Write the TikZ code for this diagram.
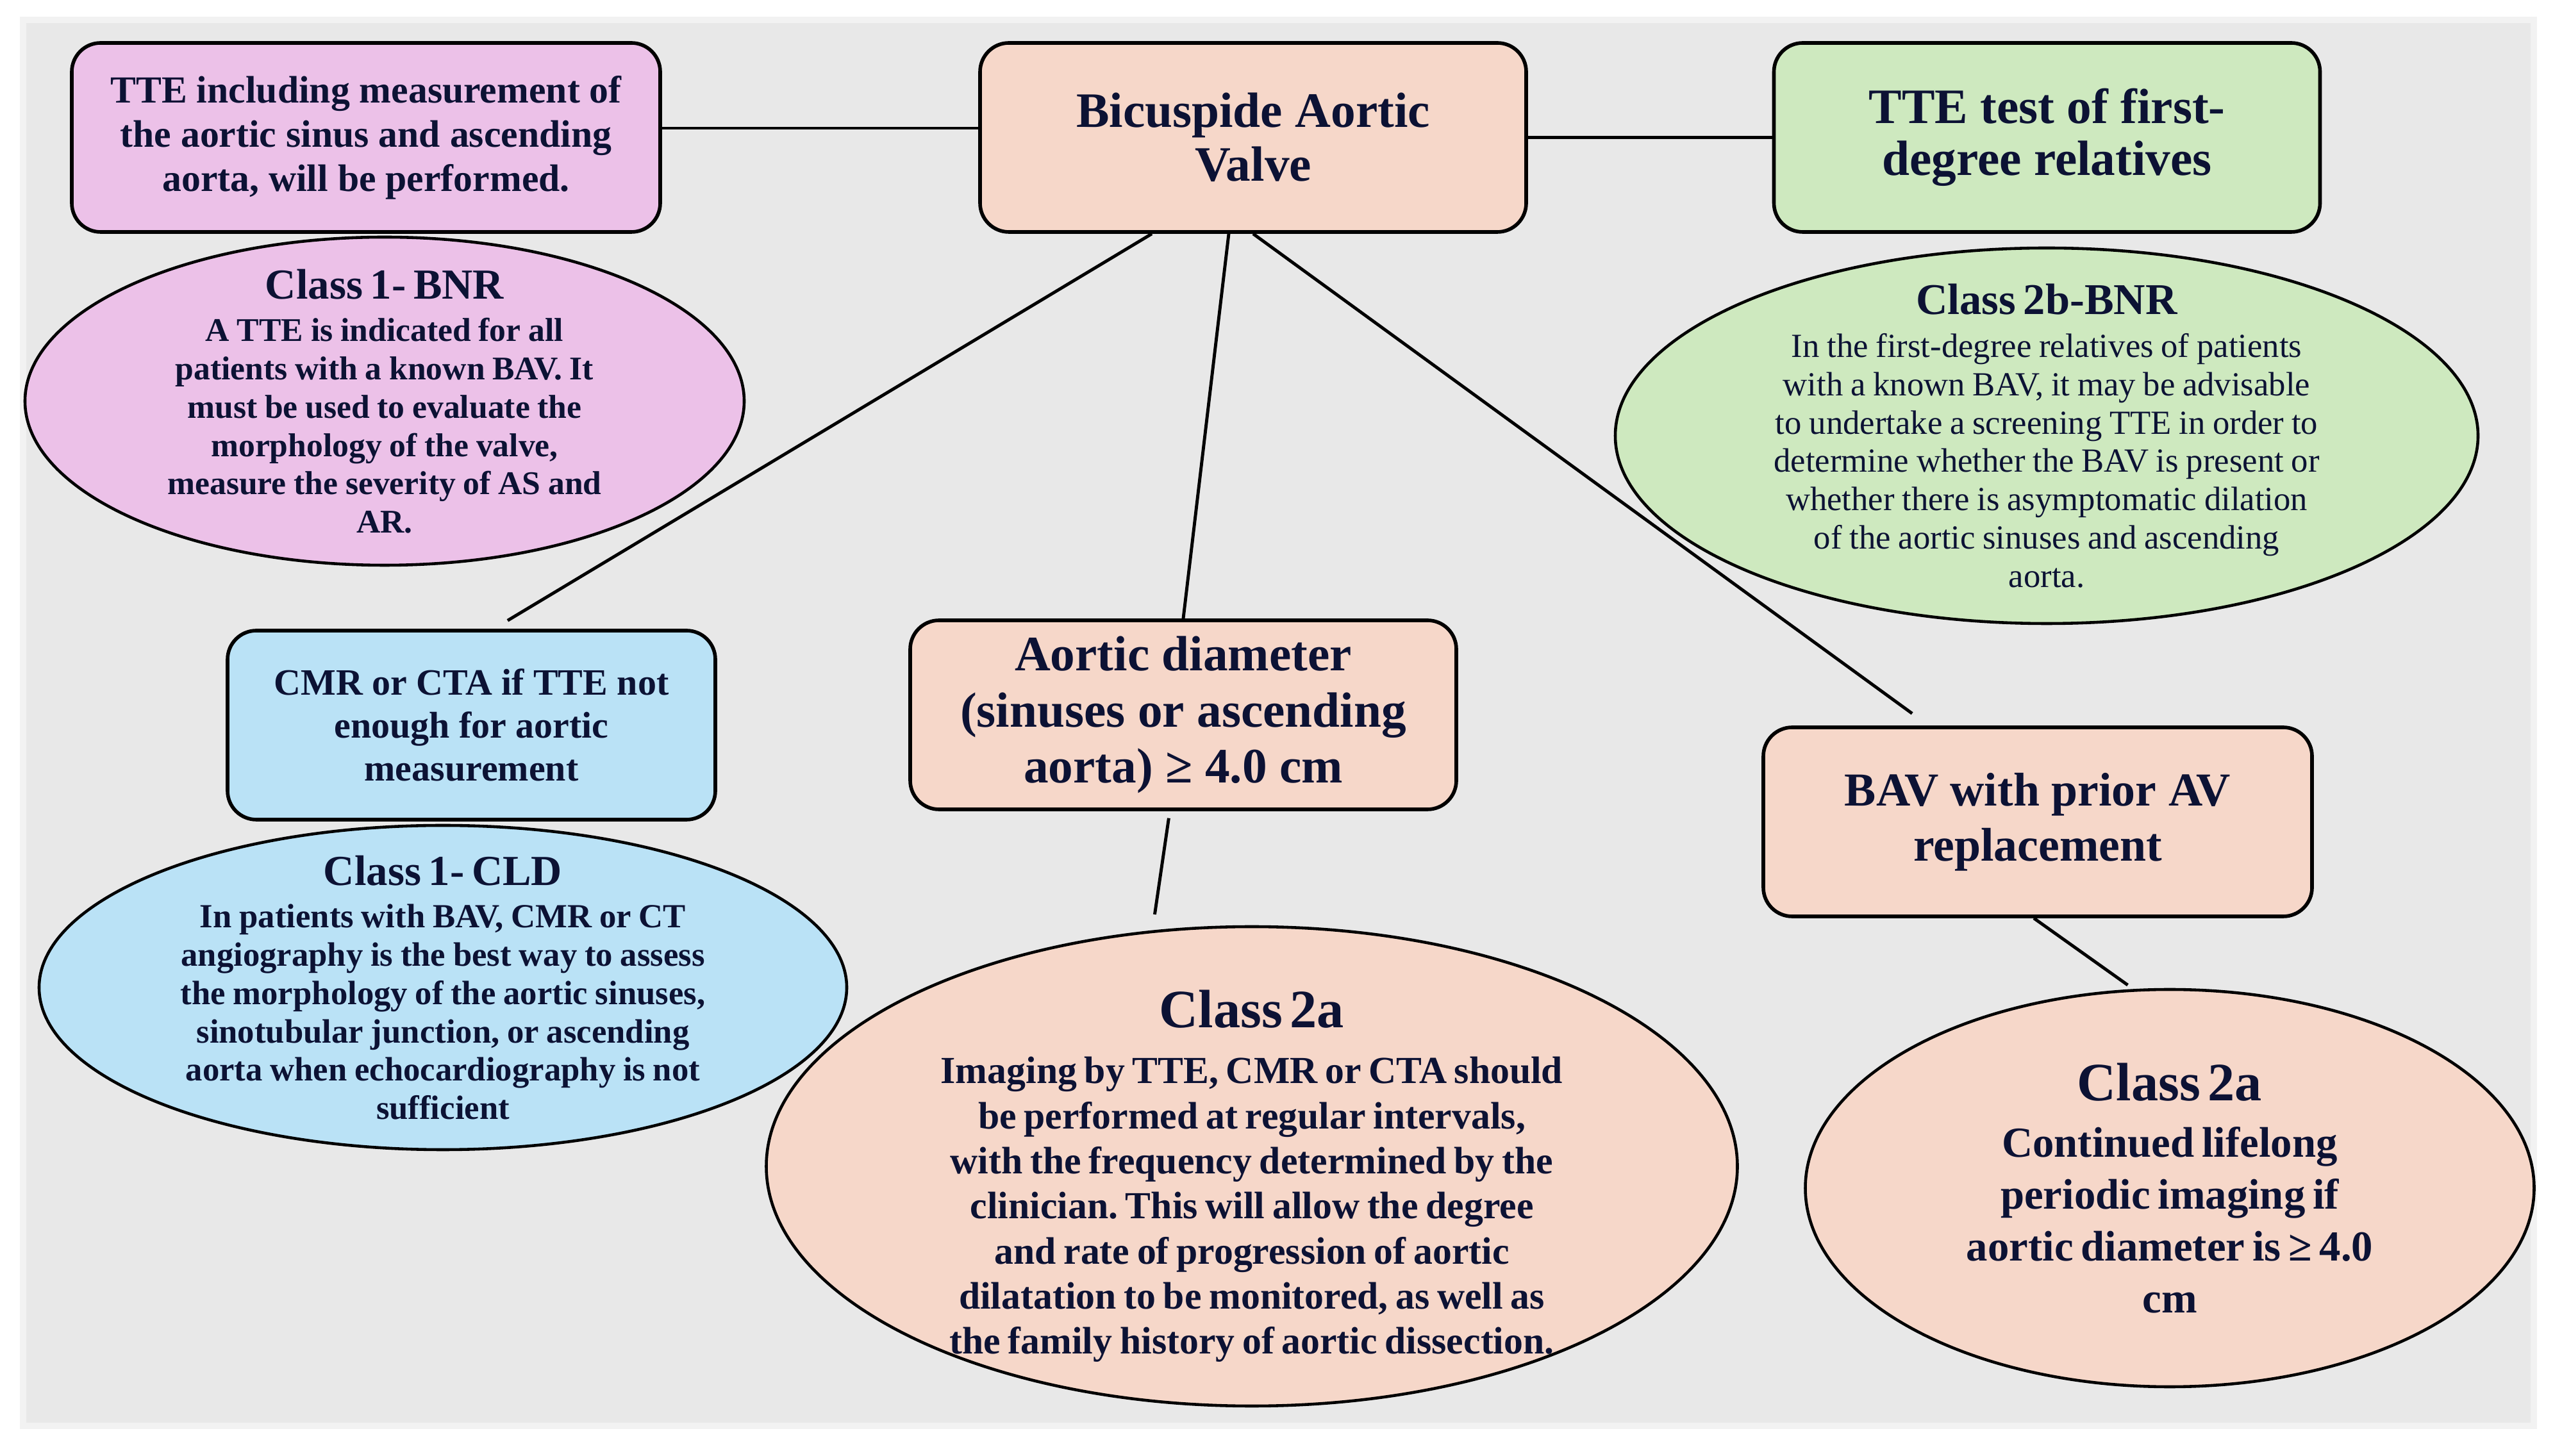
\documentclass[tikz,border=0pt]{standalone}
\usepackage{fontspec}
\setmainfont{Liberation Serif}
\usetikzlibrary{shapes.geometric}
\frenchspacing

\definecolor{ink}{RGB}{12,18,52}
\definecolor{pinkf}{RGB}{236,193,232}
\definecolor{peachf}{RGB}{246,215,201}
\definecolor{greenf}{RGB}{206,233,191}
\definecolor{bluef}{RGB}{186,226,246}
\definecolor{bggrey}{RGB}{232,232,232}
\definecolor{bgedge}{RGB}{242,242,242}

\newcommand{\setfs}[2]{\fontsize{#1}{#2}\selectfont}

\begin{document}
\begin{tikzpicture}[
            box/.style={rectangle, draw=black, line width=1.6pt, rounded corners=0.45cm, align=center, text=ink, minimum width=8.52cm, minimum height=2.95cm},
            oval/.style={ellipse, draw=black, line width=1.3pt, inner sep=0pt},
            txt/.style={align=center, text=ink, inner sep=0pt, font=\bfseries},
            link/.style={line width=1.4pt}
        ]
            \useasboundingbox (0,0) rectangle (39.97,22.71);
            \fill[white] (0,0) rectangle (39.97,22.71);
            \draw[bgedge, line width=3pt, fill=bggrey] (0.36,0.46) rectangle (39.53,22.40);

            % top row
            \node[box, fill=pinkf, minimum width=9.18cm, font=\bfseries\setfs{17}{19.6}] (tteinc) at (5.71,20.565) {TTE including measurement of\\the aortic sinus and ascending\\aorta, will be performed.};
            \node[box, fill=peachf, font=\bfseries\setfs{22}{24}] (bav) at (19.55,20.565) {Bicuspide Aortic\\Valve};
            \node[box, fill=greenf, font=\bfseries\setfs{22}{23}] (ttetest) at (31.935,20.565) {TTE test of first-\\degree relatives};

            % recommendation ovals
            \node[oval, fill=pinkf, minimum width=11.22cm, minimum height=5.12cm] (bnr) at (6.00,16.45) {};
            \node[txt, text width=10.5cm] (bnrtext) at (bnr.center) {{\setfs{19}{21}Class 1- BNR\par}\vspace{2pt}\setfs{14.7}{17}A TTE is indicated for all\\patients with a known BAV. It\\must be used to evaluate the\\morphology of the valve,\\measure the severity of AS and\\AR.\par};

            \node[oval, fill=greenf, minimum width=13.46cm, minimum height=5.86cm] (tte2b) at (31.93,15.91) {};
            \node[txt, text width=12.5cm] (tte2btext) at (tte2b.center) {{\setfs{19.5}{21}Class 2b-BNR\par}\vspace{2pt}\mdseries\setfs{15}{17}In the first-degree relatives of patients\\with a known BAV, it may be advisable\\to undertake a screening TTE in order to\\determine whether the BAV is present or\\whether there is asymptomatic dilation\\of the aortic sinuses and ascending\\aorta.\par};

            % middle row
            \node[box, fill=bluef, minimum width=7.61cm, font=\bfseries\setfs{16.5}{19}] (cmr) at (7.355,11.395) {CMR or CTA if TTE not\\enough for aortic\\measurement};
            \node[box, fill=peachf, font=\bfseries\setfs{22}{25}] (diam) at (18.46,11.555) {Aortic diameter\\(sinuses or ascending\\aorta) ≥ 4.0 cm};
            \node[box, fill=peachf, minimum width=8.56cm, font=\bfseries\setfs{21}{24.5}] (prior) at (31.79,9.885) {BAV with prior AV\\replacement};

            % bottom row
            \node[oval, fill=bluef, minimum width=12.6cm, minimum height=5.06cm] (cld) at (6.91,7.30) {};
            \node[txt, text width=11.5cm] (cldtext) at (cld.center) {{\setfs{19}{21}Class 1- CLD\par}\vspace{2pt}\setfs{15}{17}In patients with BAV, CMR or CT\\angiography is the best way to assess\\the morphology of the aortic sinuses,\\sinotubular junction, or ascending\\aorta when echocardiography is not\\sufficient\par};

            \node[oval, fill=peachf, minimum width=15.15cm, minimum height=7.48cm] (diam2a) at (19.53,4.51) {};
            \node[txt, text width=14cm] (diam2atext) at ([yshift=-0.15cm]diam2a.center) {{\setfs{24}{26}Class 2a\par}\vspace{5pt}\setfs{17}{20}Imaging by TTE, CMR or CTA should\\be performed at regular intervals,\\with the frequency determined by the\\clinician. This will allow the degree\\and rate of progression of aortic\\dilatation to be monitored, as well as\\the family history of aortic dissection.\par};

            \node[oval, fill=peachf, minimum width=11.37cm, minimum height=6.2cm] (life2a) at (33.85,4.17) {};
            \node[txt, text width=10.5cm] (life2atext) at (life2a.center) {{\setfs{24}{26}Class 2a\par}\vspace{2pt}\setfs{19}{23}Continued lifelong\\periodic imaging if\\aortic diameter is ≥ 4.0\\cm\par};

            % connectors
            \draw[link] ([yshift=0.145cm]tteinc.east) -- ([yshift=0.145cm]bav.west);
            \draw[link] (bav.east) -- (ttetest.west);
            \draw[link, shorten >=0.25cm] ([xshift=-1.58cm]bav.south) -- ([xshift=0.35cm]cmr.north);
            \draw[link] ([xshift=-0.38cm]bav.south) -- (diam.north);
            \draw[link, shorten >=0.32cm] (bav.south) -- ([xshift=-1.70cm]prior.north);
            \draw[link, shorten <=0.11cm, shorten >=0.17cm] ([xshift=-0.21cm]diam.south) -- ([xshift=-1.54cm]diam2a.north);
            \draw[link, shorten >=0.08cm] ([xshift=-0.06cm]prior.south) -- ([xshift=-0.59cm]life2a.north);
        \end{tikzpicture}
\end{document}
